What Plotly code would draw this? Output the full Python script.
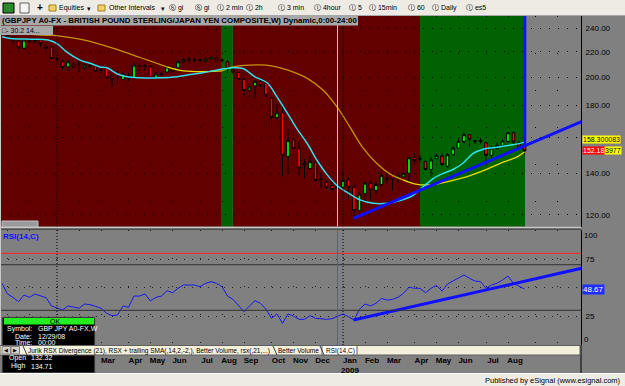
import pandas as pd
import plotly.graph_objects as go

# ---------------- data ----------------
first_bar = "2007-10-29"          # first weekly bar (Mondays)
base_week = "2008-01-07"          # week offset 0

opens = [235.6, 240.5, 232.3, 228.9, 222.8, 229.7, 228.3, 229.7, 224.6, 224.0,
         214.6, 211.9, 207.9, 210.0, 210.2, 207.2, 208.9, 208.7, 205.6, 206.7,
         200.4, 199.9, 198.4, 200.9, 199.6, 209.3, 208.6, 207.9, 199.6, 202.5,
         204.0, 207.2, 207.2, 211.9, 213.8, 213.4, 213.0, 212.4, 214.0, 215.1,
         213.2, 211.9, 206.1, 203.7, 198.4, 190.6, 193.7, 196.7, 195.6, 185.3,
         172.2, 175.3, 149.0, 158.6, 153.4, 144.6, 142.5, 145.8, 137.2, 135.4,
         133.8, 132.32, 132.9, 136.6, 132.9, 121.8, 129.8, 134.9, 131.3, 134.3,
         137.5, 138.8, 137.2, 138.1, 140.0, 148.6, 147.5, 146.4, 142.0, 147.8,
         149.2, 143.7, 150.0, 153.7, 157.6, 161.6, 158.0, 157.5, 156.8, 149.6,
         153.4, 155.3, 157.6, 162.8, 156.7, 155.3]
highs = [242.1, 242.1, 233.1, 229.7, 230.6, 231.1, 231.3, 231.1, 225.5, 224.6,
         215.8, 213.2, 213.2, 212.4, 213.2, 210.9, 210.7, 210.7, 207.2, 207.9,
         202.8, 205.4, 203.9, 203.4, 210.9, 210.5, 210.0, 209.3, 203.9, 205.4,
         209.3, 207.9, 213.2, 215.1, 215.4, 215.1, 214.6, 215.3, 216.3, 215.8,
         214.4, 213.2, 207.9, 204.0, 199.2, 194.2, 197.9, 197.9, 196.7, 185.9,
         181.3, 179.2, 165.2, 164.6, 157.2, 147.8, 150.0, 146.8, 140.2, 136.3,
         136.3, 134.71, 140.9, 137.9, 134.6, 130.3, 136.3, 136.3, 136.3, 141.4,
         140.2, 140.2, 139.8, 144.6, 148.6, 150.9, 149.6, 146.8, 148.6, 150.7,
         151.0, 150.9, 154.6, 159.3, 162.8, 162.2, 158.8, 159.6, 157.4, 155.3,
         156.9, 158.8, 163.2, 163.6, 158.2, 156.3]
lows = [234.5, 231.3, 225.5, 222.8, 222.0, 223.6, 227.2, 224.0, 222.0, 213.2,
        213.2, 205.4, 204.6, 206.7, 204.0, 205.4, 206.7, 204.0, 203.2, 199.2,
        192.9, 195.4, 197.9, 197.2, 199.4, 204.6, 205.4, 199.2, 198.6, 201.6,
        203.2, 203.7, 206.1, 210.9, 211.4, 211.9, 211.4, 211.6, 213.2, 212.4,
        211.6, 203.4, 203.0, 197.9, 186.4, 185.9, 184.8, 192.9, 185.9, 166.0,
        170.4, 138.4, 140.0, 149.6, 138.8, 137.6, 142.0, 132.9, 132.1, 132.1,
        131.3, 129.92, 131.3, 128.1, 118.2, 119.2, 126.5, 126.5, 129.5, 132.9,
        134.6, 131.3, 134.9, 138.1, 135.4, 145.0, 145.9, 141.4, 138.3, 147.8,
        143.7, 143.0, 149.6, 153.4, 156.3, 154.7, 156.3, 156.3, 146.2, 146.8,
        153.4, 154.4, 157.0, 156.4, 153.4, 150.2]
closes = [240.5, 232.6, 229.1, 223.2, 229.7, 228.3, 230.2, 226.7, 222.8, 214.6,
          214.0, 207.5, 211.9, 207.7, 210.5, 209.3, 208.6, 204.6, 205.2, 199.6,
          198.4, 200.3, 202.5, 199.2, 209.3, 208.6, 208.2, 199.6, 202.5, 202.0,
          207.9, 204.6, 211.9, 213.8, 213.4, 213.0, 213.6, 214.0, 215.4, 213.2,
          213.0, 206.7, 204.0, 198.4, 190.6, 192.9, 197.0, 194.2, 187.1, 172.2,
          175.3, 149.6, 158.2, 153.4, 142.7, 145.2, 146.2, 136.3, 136.8, 132.9,
          131.8, 133.4, 136.3, 132.9, 121.8, 129.5, 134.9, 131.6, 134.3, 138.8,
          137.0, 137.1, 138.6, 139.8, 148.3, 146.8, 147.8, 142.0, 147.1, 149.6,
          144.6, 150.0, 153.7, 157.6, 161.6, 158.8, 157.5, 158.2, 149.6, 153.7,
          155.3, 157.8, 162.8, 157.2, 154.4, 152.18]

# fast (cyan) and slow (yellow) averages: week offsets from base_week, values
fast_ma_wk = [-10, -8.5, -4.4, -1.6, 0, 1.8, 4.2, 6, 7.8, 9.1, 10.9, 12.7, 15.1, 18.7,
              21.8, 24.2, 26.5, 29.6, 32, 33.8, 36, 38.2, 40, 41.8, 43.6, 45.5, 47.3,
              49.1, 50.9, 52.7, 55.1, 57.5, 60, 62.4, 64.7, 66.5, 68.4, 69.6, 72,
              73.8, 75.6, 77.5, 79.3, 81.1, 82.9, 85]
fast_ma = [232.6, 231.1, 230.5, 229.7, 226.7, 219.6, 213.2, 210.7, 207.9, 207.2,
           202.7, 200.4, 199.6, 199.6, 200.4, 202.2, 203.4, 206.0, 207.2, 206.7,
           200.4, 196.0, 186.0, 175.6, 165.3, 156.4, 146.8, 139.3, 133.8, 130.5,
           126.8, 125.2, 125.2, 126.5, 128.9, 133.0, 137.3, 139.2, 142.0, 145.3,
           150.6, 153.1, 154.0, 154.8, 155.6, 157.2]
slow_ma_wk = [-10, -7, -1, 5, 11, 15, 20, 23, 27, 30, 32, 35, 38, 42, 45.5, 48.4,
              50.9, 53.3, 55.6, 58.2, 60.5, 62.9, 65.5, 68.4, 69.6, 72, 75.1, 78.2,
              81.1, 83.6, 85]
slow_ma = [238.5, 235.6, 234.0, 229.7, 221.7, 215.5, 207.9, 204.8, 204.2, 204.8,
           207.9, 209.3, 209.3, 205.4, 199.2, 190.6, 179.2, 166.1, 154.0, 145.0,
           139.7, 136.6, 134.3, 134.2, 134.8, 136.3, 138.8, 142.2, 145.9, 148.7, 151.5]
slow_ma_tone = ["y", "y", "o", "o", "o", "o", "y", "y", "y", "o", "o", "o", "o", "o",
                "o", "o", "o", "o", "o", "o", "o", "y", "y", "y", "y", "y", "y", "y",
                "y", "y", "y"]

rsi = [53.7, 44.3, 41.4, 37.5, 43.4, 41.4, 44.3, 42.5, 41.1, 33.8,
       31.8, 30.3, 33.8, 32.6, 31.8, 35.5, 35.0, 33.5, 31.8, 27.4,
       25.3, 25.9, 33.8, 32.6, 42.5, 42.5, 44.3, 38.2, 41.4, 42.5,
       47.2, 45.4, 49.3, 52.2, 52.2, 52.2, 50.7, 53.7, 55.1, 53.7,
       50.7, 42.5, 39.6, 34.6, 28.8, 33.8, 38.4, 36.1, 30.9, 23.0,
       26.8, 18.6, 26.8, 25.0, 22.1, 22.1, 25.3, 23.0, 22.5, 22.1,
       22.6, 24.5, 26.8, 24.4, 21.5, 30.9, 35.5, 33.8, 36.1, 40.5,
       39.0, 39.6, 41.4, 44.9, 50.2, 49.3, 49.3, 45.4, 49.3, 51.9,
       46.9, 53.1, 55.7, 58.1, 61.0, 58.1, 55.7, 55.1, 49.3, 52.2,
       53.7, 56.6, 60.1, 53.7, 51.3, 48.67]
rsi_levels_red = [80]
rsi_levels_dark = [70, 30]

trend_price_wk = [53.9, 95.4]
trend_price = [118.4, 169.6]
trend_rsi_wk = [53.9, 95.4]
trend_rsi = [21.5, 66.9]
cursor_bar_wk = [85.1, 85.1]
cursor_bar_price = [260.0, 155.1]

green_zones_wk = [(29.95, 31.95), (66.0, 85.1)]
red_zones_wk = [(-12, 29.95), (31.95, 66.0)]
year_lines = ["2008-01-07", "2009-01-05"]
cursor_date = "2008-12-29"

month_ticks = ["2007-11-05", "2007-12-03", "2008-01-07", "2008-02-04", "2008-03-03",
               "2008-04-07", "2008-05-05", "2008-06-02", "2008-07-07", "2008-08-04",
               "2008-09-01", "2008-10-06", "2008-11-03", "2008-12-01", "2009-01-05",
               "2009-02-02", "2009-03-02", "2009-04-06", "2009-05-04", "2009-06-01",
               "2009-07-06", "2009-08-03", "2009-09-07", "2009-10-05"]
month_text = ["", "", "", "", "Mar", "Apr", "May", "Jun", "Jul", "Aug", "Sep", "Oct",
              "Nov", "Dec", "Jan<br>2009", "Feb", "Mar", "Apr", "May", "Jun", "Jul",
              "Aug", "", ""]
price_ticks = [120, 140, 160, 180, 200, 220, 240]
price_text = ["120.00", "140.00", "", "180.00", "200.00", "220.00", "240.00"]
rsi_ticks = [25, 50, 75]
rsi_text = ["25", "", "75"]

# ---------------- geometry ----------------
W, H = 625, 386
PR = 581            # right edge of plot area (px)
TOP, BOT = 16, 345  # plot area top/bottom (px)
PX_PER_WEEK = 5.5
X_BASE_PX = 57

base = pd.Timestamp(base_week)
def wk(w):
    return base + pd.Timedelta(days=7 * w)

dates = pd.date_range(first_bar, periods=len(opens), freq="W-MON")
x_range = [wk(-X_BASE_PX / PX_PER_WEEK), wk((PR - X_BASE_PX) / PX_PER_WEEK)]

def fx(px):
    return px / PR
def fy(py):
    return (BOT - py) / (BOT - TOP)

FONT = "Liberation Sans"
RED_BG = "#620000"
GREEN_BG = "#006200"
GRAY = "#808080"

fig = go.Figure()

fig.add_trace(go.Candlestick(
    x=dates, open=opens, high=highs, low=lows, close=closes,
    increasing=dict(fillcolor="#00FF00", line=dict(color="#000000", width=1)),
    decreasing=dict(fillcolor="#FF0000", line=dict(color="#000000", width=1)),
    whiskerwidth=0, xaxis="x", yaxis="y", showlegend=False, hoverinfo="skip"))

# slow MA split by tone
tone_col = {"y": "#E8DC00", "o": "#C8900C"}
i = 0
n = len(slow_ma)
while i < n - 1:
    j = i
    while j < n - 1 and slow_ma_tone[j] == slow_ma_tone[i]:
        j += 1
    xs = [wk(w) for w in slow_ma_wk[i:j + 1]]
    fig.add_trace(go.Scatter(x=xs, y=slow_ma[i:j + 1], mode="lines",
                             line=dict(color=tone_col[slow_ma_tone[i]], width=1.3, shape="spline"),
                             xaxis="x", yaxis="y", showlegend=False, hoverinfo="skip"))
    i = j

fig.add_trace(go.Scatter(x=[wk(w) for w in fast_ma_wk], y=fast_ma, mode="lines",
                         line=dict(color="#30E0F0", width=1.5, shape="spline"),
                         xaxis="x", yaxis="y", showlegend=False, hoverinfo="skip"))

fig.add_trace(go.Scatter(x=[wk(w) for w in trend_price_wk], y=trend_price, mode="lines",
                         line=dict(color="#1010FF", width=3), xaxis="x", yaxis="y",
                         showlegend=False, hoverinfo="skip"))
fig.add_trace(go.Scatter(x=[wk(w) for w in cursor_bar_wk], y=cursor_bar_price, mode="lines",
                         line=dict(color="#1010FF", width=2.5), xaxis="x", yaxis="y",
                         showlegend=False, hoverinfo="skip"))

fig.add_trace(go.Scatter(x=dates, y=rsi, mode="lines", line=dict(color="#1818F0", width=1),
                         xaxis="x2", yaxis="y2", showlegend=False, hoverinfo="skip"))
fig.add_trace(go.Scatter(x=[wk(w) for w in trend_rsi_wk], y=trend_rsi, mode="lines",
                         line=dict(color="#1010FF", width=3), xaxis="x2", yaxis="y2",
                         showlegend=False, hoverinfo="skip"))

shapes = []
for a, b in red_zones_wk:
    shapes.append(dict(type="rect", xref="x", yref="y domain", x0=wk(a), x1=wk(b), y0=0, y1=1,
                       fillcolor=RED_BG, line_width=0, layer="below"))
for a, b in green_zones_wk:
    shapes.append(dict(type="rect", xref="x", yref="y domain", x0=wk(a), x1=wk(b), y0=0, y1=1,
                       fillcolor=GREEN_BG, line_width=0, layer="below"))
for lv in rsi_levels_red:
    shapes.append(dict(type="line", xref="x2 domain", yref="y2", x0=0, x1=1, y0=lv, y1=lv,
                       line=dict(color="#FF2020", width=1)))
for lv in rsi_levels_dark:
    shapes.append(dict(type="line", xref="x2 domain", yref="y2", x0=0, x1=1, y0=lv, y1=lv,
                       line=dict(color="#303030", width=1)))
for d in year_lines:
    for ax in ("y", "y2"):
        shapes.append(dict(type="line", xref="x", yref=ax + " domain", x0=d, x1=d, y0=0, y1=1,
                           line=dict(color="#000000", width=1, dash="1px,2px")))
shapes.append(dict(type="line", xref="x", yref="y domain", x0=cursor_date, x1=cursor_date,
                   y0=0, y1=1, line=dict(color="#E8B8B8", width=1)))
shapes.append(dict(type="line", xref="x", yref="y2 domain", x0=cursor_date, x1=cursor_date,
                   y0=0, y1=1, line=dict(color="#FF2020", width=1)))

def prect(x0, y0, x1, y1, fill, line=None, lw=0):
    d = dict(type="rect", xref="paper", yref="paper", x0=fx(x0), x1=fx(x1), y0=fy(y1), y1=fy(y0),
             fillcolor=fill, layer="above", line=dict(width=lw, color=line or fill))
    return d
def pline(x0, y0, x1, y1, col, lw=1):
    return dict(type="line", xref="paper", yref="paper", x0=fx(x0), x1=fx(x1), y0=fy(y0), y1=fy(y1),
                line=dict(color=col, width=lw), layer="above")

# panel separators / edges
shapes.append(pline(0, 227.3, PR, 227.3, "#D8D8D8", 1))
shapes.append(pline(0, 229.3, PR, 229.3, "#404040", 1))
shapes.append(pline(0.5, TOP, 0.5, BOT, "#C8C8C8", 1))
shapes.append(pline(PR, BOT, PR, 373, "#000000", 1))
# scroll thumb
shapes.append(prect(2, 221, 38, 227, "#9A9A9A", "#C4C4C4", 1))
# title backgrounds
shapes.append(prect(0, 16, 358, 25.5, "#A8A8A8"))
shapes.append(prect(0, 26, 53, 35, "#A8A8A8"))
# toolbar
shapes.append(prect(0, 0, W, 15, "#EDEBE4"))
shapes.append(pline(0, 15.5, W, 15.5, "#A8A8A8", 1))
shapes.append(prect(3, 3, 14, 13, "#2A8A2A", "#000000", 1))
shapes.append(prect(20, 3, 29, 13, "#F4F4F4", "#606060", 1))
shapes.append(prect(49, 5, 56, 11, "#F0D060", "#A08020", 1))
shapes.append(prect(98, 5, 105, 11, "#F0D060", "#A08020", 1))
# data window
shapes.append(prect(2, 317, 95, 373, "#000000", "#707070", 1))
shapes.append(prect(4, 318, 94, 324.5, "#22EE22"))
# tab strip
shapes.append(prect(0, 345.5, 580, 355, "#F3F0DC", "#606060", 1))
shapes.append(prect(322, 345.5, 357, 355, "#FFFFFF", "#606060", 1))
shapes.append(prect(2, 346.5, 10.5, 354, "#D4D0C8", "#808080", 1))
shapes.append(prect(11, 346.5, 19.5, 354, "#D4D0C8", "#808080", 1))
for sx in (23, 273, 320):
    shapes.append(pline(sx, 346, sx + 4, 355, "#404040", 1))
# status bar
shapes.append(prect(0, 373, W, H, "#EDEBE4"))
shapes.append(pline(0, 373.5, W, 373.5, "#FFFFFF", 1))

ann = []
def txt(x, y, text, size=7, color="#000000", anchor="left", bold=False, bg=None, family=FONT):
    t = "<b>" + text + "</b>" if bold else text
    d = dict(xref="paper", yref="paper", x=fx(x), y=fy(y), text=t, showarrow=False,
             xanchor=anchor, yanchor="middle", font=dict(size=size, color=color, family=family),
             borderpad=0)
    if bg:
        d["bgcolor"] = bg
    ann.append(d)

# toolbar texts
txt(36, 8, "+", 10, bold=True)
txt(58, 8, "Equities", 7)
txt(86, 8.5, "▾", 7)
txt(108, 8, "Other Intervals", 7)
txt(160, 8.5, "▾", 7)
tb = [(168, "Ⓢ gi"), (194, "Ⓢ gi"), (216, "Ⓘ 2 min"), (245, "Ⓘ 2h"), (277, "Ⓘ 3 min"),
      (313, "Ⓘ 4hour"), (348, "Ⓘ 5"), (368, "Ⓘ 15min"), (407, "Ⓘ 60"), (431, "Ⓘ Daily"),
      (465, "Ⓘ es5")]
for x, t in tb:
    txt(x, 8, t, 7)

# titles
txt(1, 21, "(GBPJPY A0-FX - BRITISH POUND STERLING/JAPAN YEN COMPOSITE,W) Dynamic,0:00-24:00",
    7.9, bold=True)
txt(1, 30.5, "□- 30.2 14...", 7)
txt(2, 236, "RSI(14,C)", 8, color="#1010FF", bold=True)

# right-axis value boxes
txt(581.5, 139.5, "158.300083", 7, bg="#FFFF00")
txt(581.5, 150.5, "152.18", 7, color="#FFFFFF", bg="#FF0000")
txt(603.5, 150.5, "3977", 7, bg="#FFFF00")
txt(581.5, 289, "48.67", 8, color="#FFFFFF", bg="#1E2EFF")
txt(583, 235, "100", 8)
txt(583, 339, "0", 8)

# data window
txt(49, 321.3, "OK", 7)
for y, lab, val in [(328.5, "Symbol:", "GBP JPY A0-FX,W"), (336.5, "Date:", "12/29/08"),
                    (342, "Time:", "00:00")]:
    txt(33, y, lab, 7, color="#FFFFFF", anchor="right")
    txt(37, y, val, 7, color="#FFFFFF")
for y, lab, val in [(357.5, "Open", "132.32"), (366, "High", "134.71")]:
    txt(27, y, lab, 7, color="#FFFFFF", anchor="right")
    txt(30, y, val, 7, color="#FFFFFF")

# tab strip
txt(3, 350.3, "◀", 5)
txt(12, 350.3, "▶", 5)
txt(27, 350.5, "Jurik RSX Divergence (21), RSX + trailing SMA(,14,2,-2,), Better Volume, rsx(,21,...)", 6.5)
txt(277, 350.5, "Better Volume", 6.5)
txt(325, 350.5, "RSI(14,C)", 6.5)

# status bar
txt(622, 380, "Published by eSignal (www.esignal.com)", 7.5, anchor="right")

axis_common = dict(zeroline=False, fixedrange=True)
fig.update_layout(
    width=W, height=H, margin=dict(l=0, r=W - PR, t=TOP, b=H - BOT, pad=0),
    paper_bgcolor=GRAY, plot_bgcolor=GRAY, showlegend=False, hovermode=False,
    xaxis=dict(domain=[0, 1], anchor="y", type="date", range=x_range, tickvals=month_ticks,
               showticklabels=False, showgrid=True, gridcolor="#1A0000", gridwidth=1,
               griddash="1px,36px", ticks="", rangeslider=dict(visible=False), **axis_common),
    xaxis2=dict(domain=[0, 1], anchor="y2", type="date", range=x_range, matches="x",
                tickvals=month_ticks, ticktext=month_text, showgrid=True, gridcolor="#202020",
                gridwidth=1, griddash="1px,27px", ticks="", ticklabelshift=7,
                ticklabelstandoff=9, tickfont=dict(family=FONT, size=8, color="#000000",
                                                   weight="bold"),
                rangeslider=dict(visible=False), **axis_common),
    yaxis=dict(domain=[fy(226.5), 1], anchor="x", type="log", range=[2.0602, 2.40006],
               side="right", tickvals=price_ticks, ticktext=price_text, showgrid=True,
               gridcolor="#000000", gridwidth=1, griddash="1px,8px", ticks="",
               ticklabelstandoff=2, showline=True, linecolor="#000000", linewidth=1,
               tickfont=dict(family=FONT, size=8, color="#000000"), **axis_common),
    yaxis2=dict(domain=[0, fy(229.5)], anchor="x2", range=[-0.44, 100.9], side="right",
                tickvals=rsi_ticks, ticktext=rsi_text, showgrid=True, gridcolor="#202020",
                gridwidth=1, griddash="1px,7px", ticks="", ticklabelstandoff=2,
                showline=True, linecolor="#000000", linewidth=1,
                tickfont=dict(family=FONT, size=8, color="#000000"), **axis_common),
    shapes=shapes, annotations=ann,
)

fig.write_html("out.html")
